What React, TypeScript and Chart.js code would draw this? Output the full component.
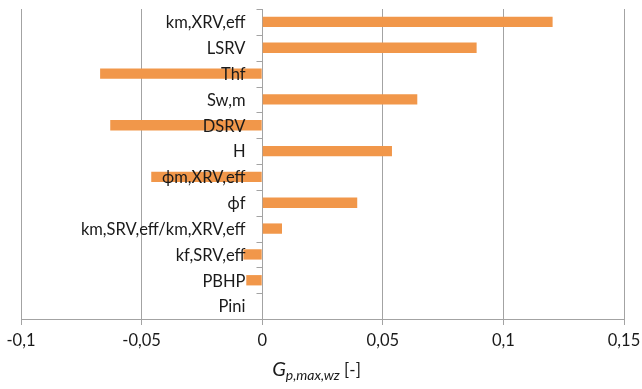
import React, { useEffect, useRef } from 'react';
import { Chart, registerables } from 'chart.js';

Chart.register(...registerables);

const CATEGORIES = [
  'km,XRV,eff',
  'LSRV',
  'Thf',
  'Sw,m',
  'DSRV',
  'H',
  'ϕm,XRV,eff',
  'ϕf',
  'km,SRV,eff/km,XRV,eff',
  'kf,SRV,eff',
  'PBHP',
  'Pini',
];

const VALUES = [0.1204, 0.0889, -0.0672, 0.0643, -0.063, 0.0538, -0.046, 0.0394, 0.0082, -0.0078, -0.0066, 0];

const X_MIN = -0.1;
const X_MAX = 0.15;
const X_STEP = 0.05;

const BAR_COLOR = '#F1974A';
const GRID_COLOR = '#A3A3A3';
const TEXT_COLOR = '#1a1a1a';
const FONT_FAMILY = 'Lato, "Open Sans", sans-serif';

const labelPlugin = {
  id: 'catLabels',
  afterDatasetsDraw(chart: any) {
    const { ctx, scales, chartArea } = chart;
    const x = scales.x;
    const y = scales.y;
    const x0 = Math.round(x.getPixelForValue(0)) + 0.5;
    ctx.save();
    // tick marks on the category axis (at zero)
    ctx.strokeStyle = GRID_COLOR;
    ctx.lineWidth = 1;
    ctx.beginPath();
    for (let i = 0; i <= CATEGORIES.length; i++) {
      const py = Math.round(y.getPixelForValue(i - 0.5)) + 0.5;
      ctx.moveTo(x0 - 6, py);
      ctx.lineTo(x0, py);
    }
    ctx.stroke();
    // category labels
    ctx.font = `16.5px ${FONT_FAMILY}`;
    ctx.fillStyle = TEXT_COLOR;
    ctx.textAlign = 'right';
    ctx.textBaseline = 'middle';
    CATEGORIES.forEach((c, i) => {
      ctx.fillText(c, x0 - 17, y.getPixelForValue(i) + 1);
    });
    // axis title
    const parts = [
      { t: 'G', font: `italic 20px ${FONT_FAMILY}`, dy: 0 },
      { t: 'p,max,wz', font: `italic 14px ${FONT_FAMILY}`, dy: 4 },
      { t: ' [-]', font: `17px ${FONT_FAMILY}`, dy: 0 },
    ];
    let total = 0;
    parts.forEach((p) => {
      ctx.font = p.font;
      total += ctx.measureText(p.t).width;
    });
    let px = (chartArea.left + chartArea.right) / 2 - 6 - total / 2;
    const baseY = 376;
    ctx.textAlign = 'left';
    ctx.textBaseline = 'alphabetic';
    parts.forEach((p) => {
      ctx.font = p.font;
      ctx.fillText(p.t, px, baseY + p.dy);
      px += ctx.measureText(p.t).width;
    });
    ctx.restore();
  },
};

export default function App() {
  const ref = useRef<HTMLCanvasElement | null>(null);

  useEffect(() => {
    document.body.style.margin = '0';
    const canvas = ref.current;
    if (!canvas) return;
    const chart = new Chart(canvas, {
      type: 'bar',
      data: {
        labels: CATEGORIES,
        datasets: [
          {
            data: VALUES,
            backgroundColor: BAR_COLOR,
            borderWidth: 0,
            barPercentage: 0.4,
            categoryPercentage: 1,
          },
        ],
      },
      options: {
        indexAxis: 'y',
        animation: false,
        responsive: false,
        devicePixelRatio: 1,
        layout: { padding: { left: 21, right: 18, top: 9, bottom: 0 } },
        plugins: {
          legend: { display: false },
          tooltip: { enabled: false },
          title: { display: false },
        },
        scales: {
          x: {
            type: 'linear',
            min: X_MIN,
            max: X_MAX,
            afterFit: (s: any) => {
              s.height = 70;
              s.paddingLeft = 0;
              s.paddingRight = 0;
            },
            ticks: {
              stepSize: X_STEP,
              color: TEXT_COLOR,
              font: { family: FONT_FAMILY, size: 16.5 },
              padding: 6,
              callback: (v: any) => Number(Number(v).toFixed(2)).toString().replace('.', ','),
            },
            grid: {
              color: GRID_COLOR,
              tickLength: 6,
              drawTicks: true,
            },
            border: { display: true, color: GRID_COLOR },
          },
          y: {
            type: 'category',
            display: false,
            offset: true,
            grid: { display: false },
          },
        },
      },
      plugins: [labelPlugin],
    });
    return () => chart.destroy();
  }, []);

  return (
    <div style={{ width: 642, height: 389 }}>
      <canvas ref={ref} width={642} height={389} style={{ display: 'block' }} />
    </div>
  );
}
